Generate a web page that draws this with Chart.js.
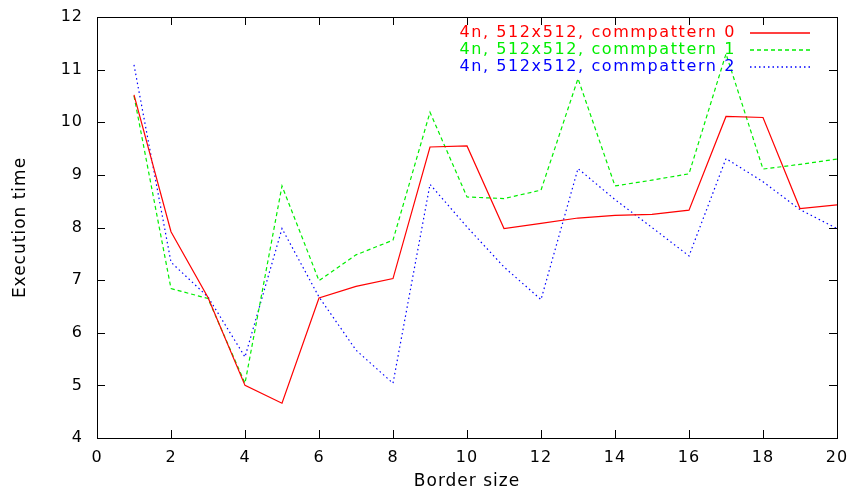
<!DOCTYPE html>
<html>
<head>
<meta charset="utf-8">
<script src="https://cdn.jsdelivr.net/npm/chart.js@4.4.1/dist/chart.umd.min.js"></script>
<style>
    html, body { margin: 0; padding: 0; background: #fff; }
    #chart { display: block; }
</style>
</head>
<body>
<canvas id="chart" width="852" height="493"></canvas>
<script>
const borderSizes = [1, 2, 3, 4, 5, 6, 7, 8, 9, 10, 11, 12, 13, 14, 15, 16, 17, 18, 19, 20];
const pattern0 = [10.52, 7.92, 6.67, 5.0, 4.66, 6.66, 6.88, 7.03, 9.53, 9.55, 7.98, 8.08, 8.18, 8.23, 8.25, 8.33, 10.11, 10.09, 8.36, 8.43];
const pattern1 = [10.5, 6.84, 6.65, 5.04, 8.79, 6.99, 7.48, 7.76, 10.19, 8.58, 8.55, 8.71, 10.83, 8.79, 8.9, 9.02, 11.3, 9.11, 9.2, 9.3];
const pattern2 = [11.09, 7.34, 6.68, 5.54, 7.98, 6.68, 5.67, 5.04, 8.82, 8.01, 7.25, 6.63, 9.12, 8.53, 8.0, 7.46, 9.31, 8.87, 8.34, 7.98];
const seriesLabels = ['4n, 512x512, commpattern 0', '4n, 512x512, commpattern 1', '4n, 512x512, commpattern 2'];

const FONT = 'DejaVu Sans';

const toPoints = (vals) => vals.map((v, i) => ({ x: borderSizes[i], y: v }));

// the original text is a bit wider than DejaVu, so space the letters out a little
const spacingPlugin = {
    id: 'spacing',
    beforeDraw(chart) { chart.ctx.letterSpacing = '1px'; },
    afterDraw(chart) { chart.ctx.letterSpacing = '0px'; }
};

// gnuplot style frame: box around the plot with ticks pointing inwards
const framePlugin = {
    id: 'frame',
    afterDatasetsDraw(chart) {
        const { ctx, chartArea: a, scales } = chart;
        ctx.save();
        ctx.strokeStyle = '#000';
        ctx.lineWidth = 1;
        ctx.beginPath();
        scales.x.ticks.forEach(t => {
            const px = Math.round(scales.x.getPixelForValue(t.value)) + 0.5;
            ctx.moveTo(px, a.bottom); ctx.lineTo(px, a.bottom - 8);
            ctx.moveTo(px, a.top); ctx.lineTo(px, a.top + 8);
        });
        scales.y.ticks.forEach(t => {
            const py = Math.round(scales.y.getPixelForValue(t.value)) + 0.5;
            ctx.moveTo(a.left, py); ctx.lineTo(a.left + 8, py);
            ctx.moveTo(a.right, py); ctx.lineTo(a.right - 8, py);
        });
        ctx.stroke();
        ctx.strokeRect(Math.round(a.left) + 0.5, Math.round(a.top) + 0.5,
            Math.round(a.right - a.left), Math.round(a.bottom - a.top));
        ctx.restore();
    }
};

// key in the top right corner: label right aligned, line sample after it
const keyPlugin = {
    id: 'key',
    afterDatasetsDraw(chart) {
        const { ctx } = chart;
        ctx.save();
        ctx.font = '16px "' + FONT + '"';
        ctx.letterSpacing = '1.6px';
        ctx.textAlign = 'right';
        ctx.textBaseline = 'middle';
        chart.data.datasets.forEach((ds, i) => {
            const y = 32.5 + i * 17;
            ctx.fillStyle = ds.borderColor;
            ctx.fillText(ds.label, 736, y);
            ctx.strokeStyle = ds.borderColor;
            ctx.lineWidth = 1.3;
            ctx.setLineDash(ds.borderDash || []);
            ctx.beginPath();
            ctx.moveTo(750, Math.round(y));
            ctx.lineTo(810, Math.round(y));
            ctx.stroke();
        });
        ctx.restore();
    }
};

new Chart(document.getElementById('chart'), {
    type: 'line',
    data: {
        datasets: [
            { label: seriesLabels[0], data: toPoints(pattern0), borderColor: '#ff0000', borderWidth: 1.2 },
            { label: seriesLabels[1], data: toPoints(pattern1), borderColor: '#00ee00', borderWidth: 1.2, borderDash: [4, 3] },
            { label: seriesLabels[2], data: toPoints(pattern2), borderColor: '#0000ff', borderWidth: 1.2, borderDash: [1.5, 3] }
        ]
    },
    options: {
        responsive: false,
        animation: false,
        layout: { padding: { left: 0, top: 17, right: 15, bottom: 0 } },
        elements: { point: { radius: 0 }, line: { tension: 0 } },
        plugins: { legend: { display: false }, tooltip: { enabled: false } },
        scales: {
            x: {
                type: 'linear', min: 0, max: 20,
                ticks: { stepSize: 2, color: '#000', padding: 10, font: { family: FONT, size: 16 } },
                grid: { display: false, drawTicks: false },
                border: { display: false },
                title: { display: true, text: 'Border size', color: '#000', font: { family: FONT, size: 17 }, padding: { top: 0, bottom: 1 } },
                afterFit(s) { s.height = 55; s.paddingLeft = 0; s.paddingRight = 0; }
            },
            y: {
                min: 4, max: 12,
                ticks: { stepSize: 1, color: '#000', padding: 14, font: { family: FONT, size: 16 } },
                grid: { display: false, drawTicks: false },
                border: { display: false },
                title: { display: true, text: 'Execution time', color: '#000', font: { family: FONT, size: 17 }, padding: { top: 10, bottom: 0 } },
                afterFit(s) { s.width = 97; s.paddingTop = 0; s.paddingBottom = 0; }
            }
        }
    },
    plugins: [spacingPlugin, framePlugin, keyPlugin]
});
</script>
</body>
</html>
